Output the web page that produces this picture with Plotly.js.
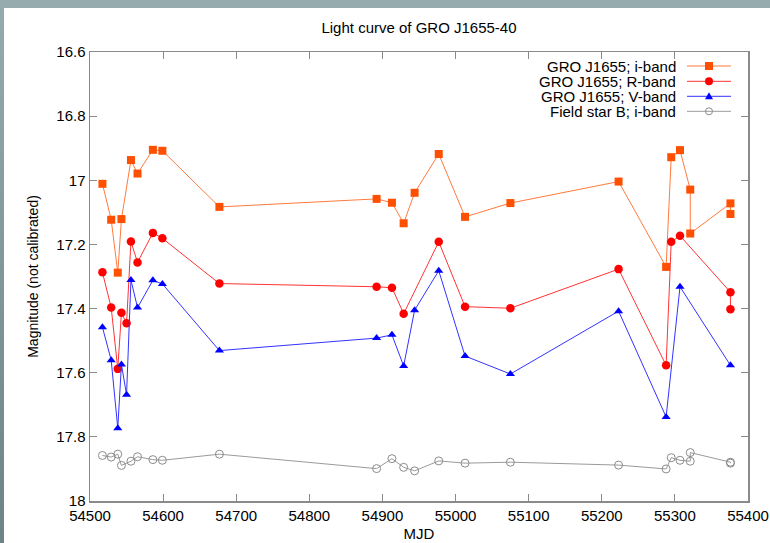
<!DOCTYPE html>
<html>
<head>
<meta charset="utf-8">
<script src="https://cdn.plot.ly/plotly-3.0.1.min.js"></script>
<style>
  html, body { margin: 0; padding: 0; width: 770px; height: 543px; overflow: hidden;
    background: linear-gradient(to bottom, #95abad, #6d8386); }
  #chart { position: absolute; left: 4px; top: 8px; width: 766px; height: 535px; background: #fff; }
</style>
</head>
<body>
<div id="chart"></div>
<script>
// ---- data ----
const iMJD = [54517, 54529, 54538, 54543, 54556, 54565, 54586, 54599, 54677, 54892, 54913, 54929, 54944, 54977, 55013, 55075, 55223, 55288, 55295, 55307, 55321, 55321, 55376, 55376];
const iMag = [17.011, 17.123, 17.288, 17.121, 16.937, 16.979, 16.905, 16.908, 17.083, 17.058, 17.070, 17.134, 17.039, 16.918, 17.114, 17.071, 17.004, 17.270, 16.928, 16.906, 17.029, 17.166, 17.072, 17.105];

const rMJD = [54517, 54529, 54538, 54543, 54550, 54556, 54565, 54586, 54599, 54677, 54892, 54913, 54929, 54977, 55013, 55075, 55223, 55288, 55295, 55307, 55376, 55376];
const rMag = [17.287, 17.397, 17.588, 17.413, 17.446, 17.191, 17.256, 17.164, 17.181, 17.322, 17.332, 17.335, 17.416, 17.192, 17.394, 17.399, 17.277, 17.577, 17.192, 17.173, 17.349, 17.402];

const vMJD = [54517, 54529, 54538, 54543, 54550, 54556, 54565, 54586, 54599, 54677, 54892, 54913, 54929, 54944, 54977, 55013, 55075, 55223, 55288, 55307, 55376];
const vMag = [17.458, 17.561, 17.773, 17.574, 17.669, 17.311, 17.397, 17.312, 17.323, 17.531, 17.492, 17.482, 17.579, 17.405, 17.282, 17.548, 17.604, 17.408, 17.738, 17.332, 17.577];

const bMJD = [54517, 54529, 54538, 54543, 54556, 54565, 54586, 54599, 54677, 54892, 54913, 54929, 54944, 54977, 55013, 55075, 55223, 55288, 55295, 55307, 55321, 55321, 55376, 55376];
const bMag = [17.858, 17.863, 17.854, 17.889, 17.876, 17.862, 17.871, 17.873, 17.854, 17.899, 17.868, 17.895, 17.906, 17.875, 17.882, 17.879, 17.888, 17.900, 17.865, 17.873, 17.876, 17.849, 17.879, 17.882];

const seriesNames = ["GRO J1655; i-band", "GRO J1655; R-band", "GRO J1655; V-band", "Field star B; i-band"];
const xTickVals = [54500, 54600, 54700, 54800, 54900, 55000, 55100, 55200, 55300, 55400];
const yTickVals = [16.6, 16.8, 17, 17.2, 17.4, 17.6, 17.8, 18];

// ---- styles ----
const FONT = '"Liberation Sans", Arial, Helvetica, sans-serif';
const colors = ['#ff4f00', '#ff0000', '#0000ff', '#8c8c8c'];
const lineColors = ['#ff7a3d', '#ff3333', '#3333ff', '#9a9a9a'];
const symbols = ['square', 'circle', 'triangle-up', 'circle-open'];
const sizes = [8, 8.5, 8, 8];

const xs = [iMJD, rMJD, vMJD, bMJD];
const ys = [iMag, rMag, vMag, bMag];

const traces = xs.map((x, k) => ({
  type: 'scatter', mode: 'lines+markers', x: x, y: ys[k], name: seriesNames[k],
  line: { color: lineColors[k], width: 1 },
  marker: { symbol: symbols[k], size: sizes[k], color: colors[k],
            line: { width: k === 3 ? 1 : 0, color: colors[k] } },
  showlegend: false
}));

// ---- legend drawn gnuplot-style (text right-justified, sample on the right) ----
const W = 766, H = 535, ML = 86, MR = 22, MT = 44, MB = 42;
const PW = W - ML - MR, PH = H - MT - MB;
const px2x = p => (p - ML) / PW;
const py2y = p => 1 - (p - MT) / PH;
const rowY = [58, 73.3, 88.3, 103.3];
const annotations = [];
const shapes = [];
seriesNames.forEach((n, k) => {
  const yy = py2y(rowY[k]);
  annotations.push({ xref: 'paper', yref: 'paper', x: px2x(673), y: yy, xanchor: 'right', yanchor: 'middle',
    text: n, showarrow: false, height: 15, valign: 'middle', borderpad: 0,
    font: { family: FONT, size: 15, color: '#000' } });
  shapes.push({ type: 'line', xref: 'paper', yref: 'paper', xsizemode: 'pixel', xanchor: px2x(683),
    x0: 0, x1: 44, y0: yy, y1: yy, line: { color: lineColors[k], width: 1 } });
  const base = { xref: 'paper', yref: 'paper', xsizemode: 'pixel', ysizemode: 'pixel',
    xanchor: px2x(705), yanchor: yy };
  if (k === 0) shapes.push(Object.assign({ type: 'rect', x0: -4, x1: 4, y0: -4, y1: 4,
    fillcolor: colors[0], line: { width: 0 } }, base));
  if (k === 1) shapes.push(Object.assign({ type: 'circle', x0: -4, x1: 4, y0: -4, y1: 4,
    fillcolor: colors[1], line: { width: 0 } }, base));
  if (k === 2) shapes.push(Object.assign({ type: 'path', path: 'M-4,-3 L4,-3 L0,4 Z',
    fillcolor: colors[2], line: { width: 0 } }, base));
  if (k === 3) shapes.push(Object.assign({ type: 'circle', x0: -3.5, x1: 3.5, y0: -3.5, y1: 3.5,
    fillcolor: 'rgba(0,0,0,0)', line: { color: colors[3], width: 1 } }, base));
});

const axisCommon = {
  showgrid: false, zeroline: false, showline: true, linecolor: '#8a8a8a', linewidth: 1.5,
  mirror: 'allticks', ticks: 'inside', ticklen: 7, tickwidth: 1, tickcolor: '#8a8a8a',
  tickfont: { family: FONT, size: 15, color: '#000' }
};

const layout = {
  width: W, height: H,
  margin: { l: ML, r: MR, t: MT, b: MB, pad: 0 },
  paper_bgcolor: '#ffffff', plot_bgcolor: '#ffffff',
  font: { family: FONT, size: 15, color: '#000' },
  title: { text: 'Light curve of GRO J1655-40', font: { family: FONT, size: 15, color: '#000' },
           xref: 'paper', x: 0.5, xanchor: 'center', yref: 'container', y: 1 - 20 / H, yanchor: 'middle' },
  xaxis: Object.assign({}, axisCommon, {
    range: [54500, 55400], tickmode: 'array', tickvals: xTickVals, ticktext: xTickVals.map(String),
    title: { text: 'MJD', font: { family: FONT, size: 15, color: '#000' }, standoff: 6 }
  }),
  yaxis: Object.assign({}, axisCommon, {
    range: [18, 16.6], tickmode: 'array', tickvals: yTickVals, ticktext: yTickVals.map(String),
    title: { text: 'Magnitude (not calibrated)', font: { family: FONT, size: 14, color: '#000' }, standoff: 14 }
  }),
  showlegend: false,
  annotations: annotations,
  shapes: shapes
};

Plotly.newPlot('chart', traces, layout, { displayModeBar: false, staticPlot: true });
</script>
</body>
</html>
